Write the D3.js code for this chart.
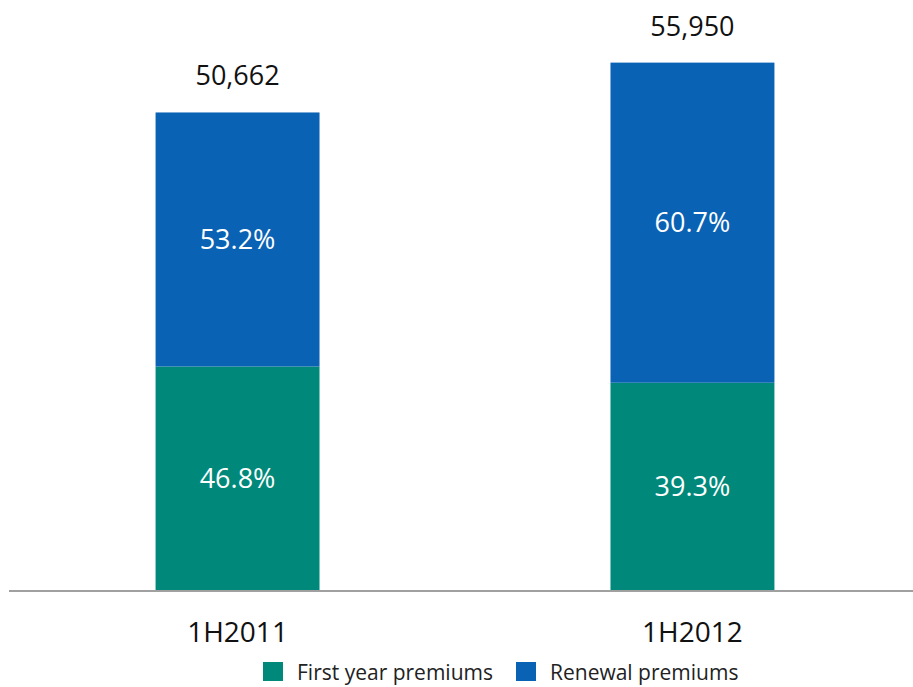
<!DOCTYPE html>
<html>
<head>
<meta charset="utf-8">
<script src="https://cdn.jsdelivr.net/npm/d3@7"></script>
<style>
  html, body { margin: 0; padding: 0; background: #fff; }
  svg { display: block; }
  text { font-family: "Open Sans", "Noto Sans", sans-serif; }
</style>
</head>
<body>
<svg id="chart" width="913" height="687"></svg>
<script>
// Premium totals by half-year and the split between first-year and renewal premiums
const categories = ["1H2011", "1H2012"];
const totals = [50662, 55950];
const firstYearPct = [46.8, 39.3];
const renewalPct = [53.2, 60.7];
const seriesNames = ["First year premiums", "Renewal premiums"];
const seriesColors = ["#00897a", "#0a62b4"];

const svg = d3.select("#chart");
const baseY = 590;

const x = d3.scaleBand()
  .domain(categories)
  .range([20, 910])
  .paddingInner(0.6396)
  .paddingOuter(0.298);

const y = d3.scaleLinear()
  .domain([0, 60000])
  .range([baseY, baseY - 0.009426 * 60000]);

// Build stacked rows: first-year at the bottom, renewal above
const rows = categories.map((c, i) => {
  const fy = totals[i] * firstYearPct[i] / 100;
  return {
    cat: c,
    total: totals[i],
    segs: [
      { key: 0, y0: 0, y1: fy, pct: firstYearPct[i] },
      { key: 1, y0: fy, y1: totals[i], pct: renewalPct[i] }
    ]
  };
});

const groups = svg.selectAll("g.bar").data(rows).enter().append("g").attr("class", "bar");

groups.selectAll("rect").data(d => d.segs.map(s => ({ ...s, cat: d.cat })))
  .enter().append("rect")
  .attr("x", d => x(d.cat))
  .attr("width", x.bandwidth())
  .attr("y", d => y(d.y1))
  .attr("height", d => y(d.y0) - y(d.y1))
  .attr("fill", d => seriesColors[d.key]);

// Percentage labels inside each segment
groups.selectAll("text.pct").data(d => d.segs.map(s => ({ ...s, cat: d.cat })))
  .enter().append("text")
  .attr("class", "pct")
  .attr("x", d => x(d.cat) + x.bandwidth() / 2)
  .attr("y", d => (y(d.y0) + y(d.y1)) / 2)
  .attr("dy", "0.35em")
  .attr("text-anchor", "middle")
  .attr("fill", "#ffffff")
  .attr("font-size", 27)
  .text(d => d.pct.toFixed(1) + "%");

// Total labels above the bars
groups.append("text")
  .attr("x", d => x(d.cat) + x.bandwidth() / 2)
  .attr("y", d => y(d.total) - 27)
  .attr("text-anchor", "middle")
  .attr("fill", "#111111")
  .attr("font-size", 27)
  .text(d => d3.format(",")(d.total));

// Baseline
svg.append("line")
  .attr("x1", 9).attr("x2", 913)
  .attr("y1", baseY + 1).attr("y2", baseY + 1)
  .attr("stroke", "#a0a0a0")
  .attr("stroke-width", 2);

// Category axis labels
const xAxis = d3.axisBottom(x).tickSize(0).tickPadding(0);
const axisG = svg.append("g").attr("transform", `translate(0,${baseY})`).call(xAxis);
axisG.select(".domain").remove();
axisG.selectAll("text")
  .attr("y", 52)
  .attr("dy", 0)
  .attr("font-size", 28)
  .attr("font-family", "\"Open Sans\", sans-serif")
  .attr("fill", "#111111");

// Legend
const legendX = [263, 516];
const legend = svg.selectAll("g.legend").data(seriesNames).enter().append("g")
  .attr("class", "legend")
  .attr("transform", (d, i) => `translate(${legendX[i]},662)`);
legend.append("rect")
  .attr("width", 20).attr("height", 19)
  .attr("fill", (d, i) => seriesColors[i]);
legend.append("text")
  .attr("x", 34).attr("y", 18)
  .attr("font-size", 21)
  .attr("fill", "#222222")
  .text(d => d);
</script>
</body>
</html>
